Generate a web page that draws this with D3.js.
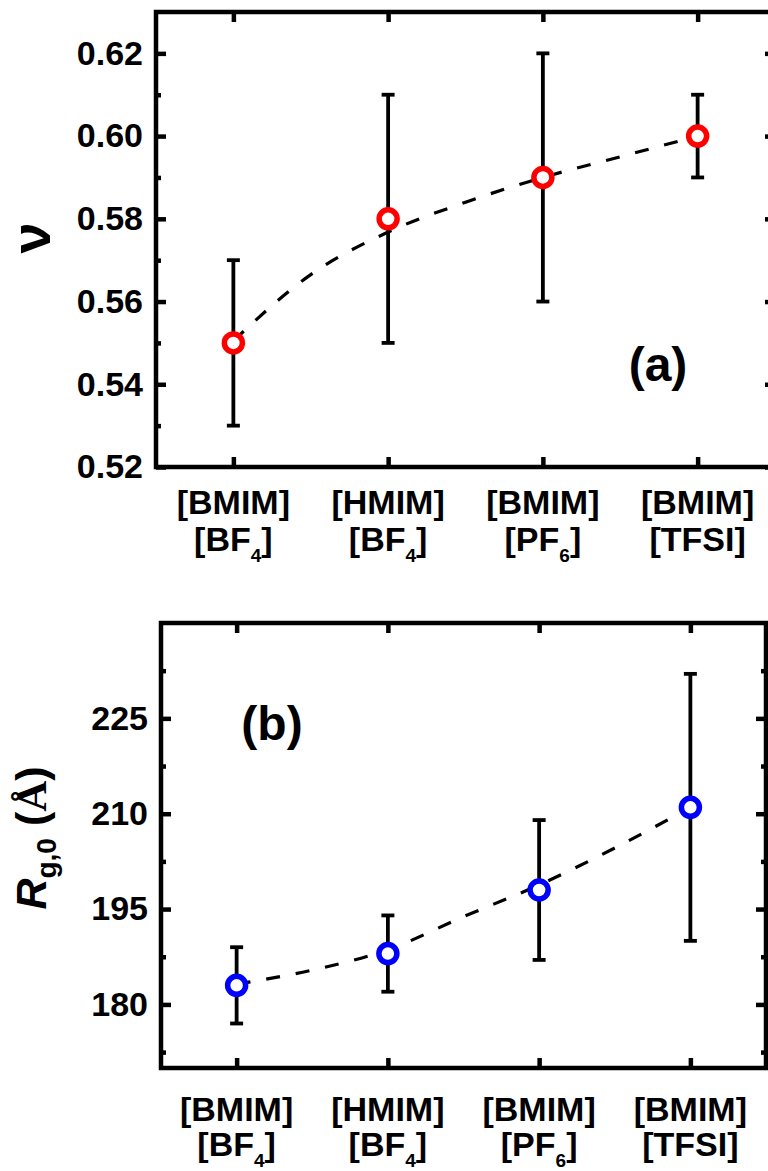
<!DOCTYPE html>
<html><head><meta charset="utf-8">
<script src="https://cdn.jsdelivr.net/npm/d3@7"></script>
<style>body{margin:0;background:#fff} svg{display:block}</style>
</head><body><svg id="c" width="768" height="1171"></svg>
<script>
// ---- data ----
const categories = ["[BMIM]", "[HMIM]", "[BMIM]", "[BMIM]"];
const anions = ["BF", "BF", "PF", "TFSI"];
const anionSubs = ["4", "4", "6", ""];
const catPos = [1, 2, 3, 4];

const nuValues = [0.55, 0.58, 0.59, 0.60];
const nuLow = [0.53, 0.55, 0.56, 0.59];
const nuHigh = [0.57, 0.61, 0.62, 0.61];
const nuFitX = [1, 1.5, 2, 2.5, 3, 3.5, 4];
const nuFit = [0.5505, 0.5665, 0.5768, 0.5840, 0.5900, 0.5950, 0.6000];
const nuMajor = [0.52, 0.54, 0.56, 0.58, 0.60, 0.62];
const nuMinor = [0.53, 0.55, 0.57, 0.59, 0.61];
const nuTickLabels = ["0.52", "0.54", "0.56", "0.58", "0.60", "0.62"];

const rgValues = [183, 188, 198, 211];
const rgLow = [177, 182, 187, 190];
const rgHigh = [189, 194, 209, 232];
const rgFitX = [1, 1.5, 2, 2.5, 3, 3.5, 4];
const rgFit = [183.2, 185.4, 188.6, 193.8, 198.8, 204.6, 211.0];
const rgMajor = [180, 195, 210, 225];
const rgMinor = [172.5, 187.5, 202.5, 217.5, 232.5];
const rgTickLabels = ["180", "195", "210", "225"];

// ---- drawing ----
const FONT = "'Liberation Sans', Arial, sans-serif";
const svg = d3.select("#c");
svg.append("rect").attr("width", 768).attr("height", 1171).attr("fill", "#fff");

function styleAxis(sel) {
  sel.select(".domain").remove();
  sel.selectAll(".tick line").attr("stroke", "#000").attr("stroke-width", 4.5);
  sel.selectAll(".tick text").attr("fill", "#000").attr("font-family", FONT)
    .attr("font-weight", "bold").attr("font-size", 34);
}

function panel(o) {
  const g = svg.append("g");
  const x = d3.scaleLinear().domain([0.5, 4.5]).range([o.left, o.right]);
  const y = d3.scaleLinear().domain(o.yDomain).range([o.bottom, o.top]);

  // axes (inward ticks on all four sides)
  g.append("g").attr("transform", `translate(${o.left},0)`)
    .call(d3.axisLeft(y).tickValues(o.major).tickFormat((d, i) => o.labels[i]).tickSize(-10).tickPadding(13))
    .call(styleAxis);
  g.append("g").attr("transform", `translate(${o.left},0)`)
    .call(d3.axisLeft(y).tickValues(o.minor).tickFormat("").tickSize(-5)).call(styleAxis);
  g.append("g").attr("transform", `translate(${o.right},0)`)
    .call(d3.axisRight(y).tickValues(o.major).tickFormat("").tickSize(-10)).call(styleAxis);
  g.append("g").attr("transform", `translate(${o.right},0)`)
    .call(d3.axisRight(y).tickValues(o.minor).tickFormat("").tickSize(-5)).call(styleAxis);
  g.append("g").attr("transform", `translate(0,${o.bottom})`)
    .call(d3.axisBottom(x).tickValues(catPos).tickFormat("").tickSize(-10)).call(styleAxis);
  g.append("g").attr("transform", `translate(0,${o.top})`)
    .call(d3.axisTop(x).tickValues(catPos).tickFormat("").tickSize(-10)).call(styleAxis);

  g.append("rect").attr("x", o.left).attr("y", o.top)
    .attr("width", o.right - o.left).attr("height", o.bottom - o.top)
    .attr("fill", "none").attr("stroke", "#000").attr("stroke-width", 4.5);

  // category labels
  catPos.forEach((c, i) => {
    g.append("text").attr("x", x(c)).attr("y", o.lab1).attr("text-anchor", "middle")
      .attr("font-family", FONT).attr("font-weight", "bold").attr("font-size", 34)
      .text(categories[i]);
    const t = g.append("text").attr("x", x(c)).attr("y", o.lab2).attr("text-anchor", "middle")
      .attr("font-family", FONT).attr("font-weight", "bold").attr("font-size", 34);
    t.append("tspan").text("[" + anions[i]);
    if (anionSubs[i]) {
      t.append("tspan").attr("font-size", 19).attr("dy", 11).text(anionSubs[i]);
      t.append("tspan").attr("dy", -11).text("]");
    } else {
      t.append("tspan").text("]");
    }
  });

  // error bars
  catPos.forEach((c, i) => {
    const cx = x(c);
    g.append("line").attr("x1", cx).attr("x2", cx).attr("y1", y(o.lo[i])).attr("y2", y(o.hi[i]))
      .attr("stroke", "#000").attr("stroke-width", 3.8);
    [o.lo[i], o.hi[i]].forEach(v => {
      g.append("line").attr("x1", cx - 6.5).attr("x2", cx + 6.5).attr("y1", y(v)).attr("y2", y(v))
        .attr("stroke", "#000").attr("stroke-width", 3.8);
    });
  });

  // fit curve
  const line = d3.line().x((d, i) => x(o.fitX[i])).y(d => y(d)).curve(d3.curveMonotoneX);
  g.append("path").attr("d", line(o.fit)).attr("fill", "none").attr("stroke", "#000")
    .attr("stroke-width", 3.2).attr("stroke-dasharray", "14,16");

  // points
  g.selectAll("circle.pt").data(o.values).enter().append("circle")
    .attr("cx", (d, i) => x(catPos[i])).attr("cy", d => y(d)).attr("r", 9)
    .attr("fill", "#fff").attr("stroke", o.color).attr("stroke-width", 5.5);

  // panel tag
  g.append("text").attr("x", o.tag[0]).attr("y", o.tag[1]).attr("text-anchor", "middle")
    .attr("font-family", FONT).attr("font-weight", "bold").attr("font-size", 48).text(o.tagText);
}

panel({
  left: 156, right: 775, top: 12, bottom: 467, yDomain: [0.52, 0.63],
  major: nuMajor, minor: nuMinor, labels: nuTickLabels,
  values: nuValues, lo: nuLow, hi: nuHigh, fitX: nuFitX, fit: nuFit,
  color: "#ff0000", lab1: 514, lab2: 551, tag: [658, 381], tagText: "(a)"
});
panel({
  left: 161, right: 766, top: 623, bottom: 1068, yDomain: [170, 240],
  major: rgMajor, minor: rgMinor, labels: rgTickLabels,
  values: rgValues, lo: rgLow, hi: rgHigh, fitX: rgFitX, fit: rgFit,
  color: "#0000ff", lab1: 1121, lab2: 1156, tag: [272, 740], tagText: "(b)"
});

// y-axis titles
svg.append("text").attr("transform", "translate(50,238) rotate(-90)")
  .attr("text-anchor", "middle").attr("font-family", FONT).attr("font-weight", "bold")
  .attr("font-size", 56).text("ν");

const yl = svg.append("text").attr("transform", "translate(46,838) rotate(-90)")
  .attr("text-anchor", "middle").attr("font-family", FONT).attr("font-weight", "bold")
  .attr("font-size", 43);
yl.append("tspan").attr("font-style", "italic").text("R");
yl.append("tspan").attr("font-size", 28).attr("dy", 10).text("g,0");
yl.append("tspan").attr("dy", -10).text(" (");
yl.append("tspan").attr("font-family", "'Liberation Serif', 'Times New Roman', serif").text("Å");
yl.append("tspan").text(")");
</script></body></html>
